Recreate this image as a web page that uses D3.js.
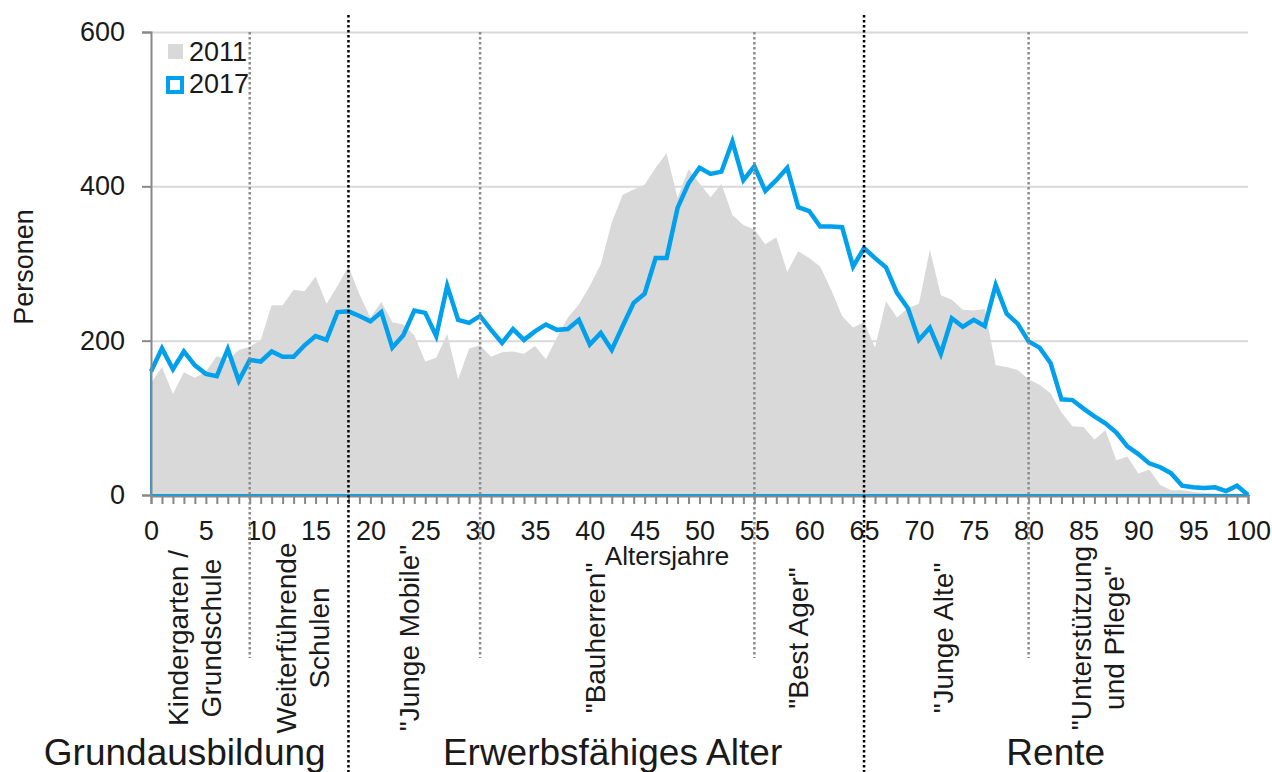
<!DOCTYPE html>
<html>
<head>
<meta charset="utf-8">
<script src="https://cdn.jsdelivr.net/npm/d3@7"></script>
<style>
  body { margin: 0; background: #fff; }
  text { font-family: "Liberation Sans", Arial, sans-serif; fill: #1a1a1a; }
</style>
</head>
<body>
<svg id="chart" width="1272" height="772"></svg>
<script>
// Altersjahre 0..100
const ages = d3.range(0, 101);

// Personen je Altersjahr
const persons2011 = [145, 166, 131, 159, 152, 160, 180, 175, 188, 192,
  201, 246, 246, 266, 264, 283, 248, 271, 296, 260,
  230, 250, 224, 221, 207, 173, 178, 209, 150, 190,
  194, 179, 185, 186, 183, 193, 176, 204, 230, 247,
  271, 299, 353, 389, 396, 402, 424, 443, 385, 422,
  404, 386, 403, 363, 350, 344, 325, 334, 289, 316,
  307, 296, 266, 232, 217, 224, 191, 251, 230, 242,
  248, 318, 259, 253, 240, 239, 241, 168, 166, 162,
  150, 143, 132, 107, 89, 88, 72, 84, 45, 50,
  28, 33, 13, 6, 6, 4, 3, 2, 2, 1, 0];

const persons2017 = [160, 190, 163, 186, 168, 157, 154, 189, 148, 175,
  173, 186, 179, 179, 194, 206, 201, 237, 238, 232,
  225, 237, 191, 207, 239, 236, 206, 271, 227, 223,
  232, 214, 197, 215, 201, 212, 221, 214, 215, 227,
  195, 210, 188, 219, 249, 261, 307, 307, 372, 404,
  424, 416, 419, 458, 408, 426, 394, 408, 424, 373,
  368, 348, 348, 347, 296, 320, 307, 295, 262, 242,
  201, 217, 183, 229, 218, 227, 219, 272, 235, 222,
  199, 191, 171, 124, 123, 112, 102, 93, 81, 63,
  53, 41, 36, 28, 12, 10, 9, 10, 5, 12, 0];

const yTicks = [0, 200, 400, 600];
const xLabelTicks = d3.range(0, 101, 5);

// Trennlinien
const phaseLines = [9, 30, 55, 80];
const groupLines = [18, 65];

// Beschriftungen der Lebensphasen (Mitte in Altersjahren, Zeilen)
const phaseAges = [4, 13.8, 23.5, 40.5, 59, 72.2, 86.3];
const phaseLabels = [
  ["Kindergarten /", "Grundschule"],
  ["Weiterführende", "Schulen"],
  ["\"Junge Mobile\""],
  ["\"Bauherren\""],
  ["\"Best Ager\""],
  ["\"Junge Alte\""],
  ["\"Unterstützung", "und Pflege\""]
];
const groupAges = [2.8, 41.8, 82.2];
const groupLabels = ["Grundausbildung", "Erwerbsfähiges Alter", "Rente"];

const series = ["2011", "2017"];

const blue = "#00a0ec";
const grey = "#d9d9d9";

const svg = d3.select("#chart");

const x = d3.scaleLinear().domain([0, 100]).range([151, 1248]);
const y = d3.scaleLinear().domain([0, 600]).range([495, 32]);

// Gitterlinien
const grid = svg.append("g")
  .attr("transform", "translate(151,0)")
  .call(d3.axisLeft(y).tickValues(yTicks.slice(1)).tickSize(-(1248 - 151)).tickFormat(""));
grid.select(".domain").remove();
grid.selectAll("line").attr("stroke", grey).attr("stroke-width", 2);

// Fläche 2011
const area2011 = d3.area()
  .x((d, i) => x(ages[i]))
  .y0(y(0))
  .y1(d => y(d));
svg.append("path")
  .datum(persons2011)
  .attr("fill", grey)
  .attr("d", area2011);

// 2017: Umriss unten dünn, Linie oben dick
svg.append("path")
  .datum(persons2017)
  .attr("fill", "none")
  .attr("stroke", blue)
  .attr("stroke-width", 2)
  .attr("d", area2011);

const line2017 = d3.line()
  .x((d, i) => x(ages[i]))
  .y(d => y(d));
svg.append("path")
  .datum(persons2017)
  .attr("fill", "none")
  .attr("stroke", blue)
  .attr("stroke-width", 4.5)
  .attr("stroke-linejoin", "miter")
  .attr("d", line2017);

// Y-Achse
const yAxis = svg.append("g")
  .attr("transform", "translate(151,0)")
  .call(d3.axisLeft(y).tickValues(yTicks).tickSize(9).tickPadding(17));
yAxis.select(".domain").attr("stroke", "#888").attr("stroke-width", 2);
yAxis.selectAll("line").attr("stroke", "#888").attr("stroke-width", 2);
yAxis.selectAll("text").attr("font-size", 27).attr("fill", "#1a1a1a");

// X-Achse (Teilstriche je Jahr)
const xAxis = svg.append("g")
  .attr("transform", "translate(0,496)")
  .call(d3.axisBottom(x).tickValues(ages).tickSize(8).tickFormat(""));
xAxis.select(".domain").attr("stroke", "#888").attr("stroke-width", 2);
xAxis.selectAll("line").attr("stroke", "#888").attr("stroke-width", 2);

const xLabels = svg.append("g")
  .attr("transform", "translate(0,495)")
  .call(d3.axisBottom(x).tickValues(xLabelTicks).tickSize(0).tickPadding(26));
xLabels.select(".domain").remove();
xLabels.selectAll("text").attr("font-size", 27).attr("fill", "#1a1a1a");

// Achsentitel
svg.append("text")
  .attr("transform", "translate(33,267) rotate(-90)")
  .attr("text-anchor", "middle")
  .attr("font-size", 27)
  .text("Personen");

svg.append("text")
  .attr("x", 667)
  .attr("y", 565)
  .attr("text-anchor", "middle")
  .attr("font-size", 26)
  .text("Altersjahre");

// Trennlinien
svg.selectAll(".phase-line")
  .data(phaseLines)
  .join("line")
  .attr("x1", d => x(d)).attr("x2", d => x(d))
  .attr("y1", y(600)).attr("y2", 658)
  .attr("stroke", "#8c8c8c")
  .attr("stroke-width", 2.5)
  .attr("stroke-dasharray", "2.5,2.5");

svg.selectAll(".group-line")
  .data(groupLines)
  .join("line")
  .attr("x1", d => x(d)).attr("x2", d => x(d))
  .attr("y1", 15).attr("y2", 772)
  .attr("stroke", "#000")
  .attr("stroke-width", 2.5)
  .attr("stroke-dasharray", "2.5,2.5");

// Lebensphasen
phaseLabels.forEach((lines, i) => {
  const cx = x(phaseAges[i]);
  const n = lines.length;
  lines.forEach((t, j) => {
    const bx = cx + (j - (n - 1) / 2) * 33 + 10;
    svg.append("text")
      .attr("transform", `translate(${bx},638) rotate(-90)`)
      .attr("text-anchor", "middle")
      .attr("font-size", 28)
      .text(t);
  });
});

groupLabels.forEach((t, i) => {
  svg.append("text")
    .attr("x", x(groupAges[i]) + 3)
    .attr("y", 765)
    .attr("text-anchor", "middle")
    .attr("font-size", 37)
    .text(t);
});

// Legende
const legend = svg.append("g");
legend.append("rect")
  .attr("x", 168).attr("y", 44).attr("width", 15).attr("height", 15)
  .attr("fill", grey);
legend.append("rect")
  .attr("x", 168).attr("y", 78).attr("width", 14).attr("height", 14)
  .attr("fill", "#fff").attr("stroke", blue).attr("stroke-width", 4);
legend.selectAll(".leg-text")
  .data(series)
  .join("text")
  .attr("x", 189)
  .attr("y", (d, i) => 61 + i * 32)
  .attr("font-size", 27)
  .text(d => d);
</script>
</body>
</html>
